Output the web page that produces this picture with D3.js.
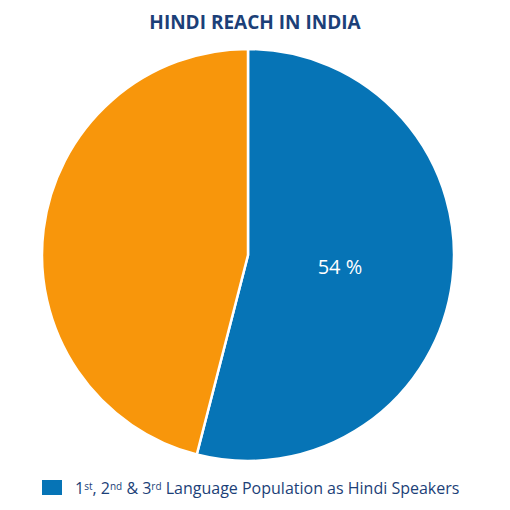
<!DOCTYPE html>
<html><head><meta charset="utf-8">
<script src="https://cdn.jsdelivr.net/npm/d3@7"></script>
<style>body{margin:0;background:#fff}</style>
</head><body>
<svg id="chart" width="510" height="510"></svg>
<script>
// values from the picture
const sliceNames = ["Hindi Speakers", "Others"];
const sliceValues = [54, 46];
const sliceColors = ["#0674b6", "#f8960b"];
const sliceLabels = ["54 %", ""];

const svg = d3.select("#chart");
const cx = 248, cy = 255, radius = 206;

svg.append("text")
    .attr("x", 255).attr("y", 29)
    .attr("text-anchor", "middle")
    .style("font-family", "'Open Sans', sans-serif")
    .style("font-weight", "bold")
    .style("font-size", "19px")
    .style("fill", "#1c3f78")
    .text("HINDI REACH IN INDIA");

const pie = d3.pie().sort(null).value(d => d);
const arcs = pie(sliceValues);
const arc = d3.arc().innerRadius(0).outerRadius(radius);

const g = svg.append("g").attr("transform", `translate(${cx},${cy})`);
g.selectAll("path")
    .data(arcs)
    .enter()
    .append("path")
    .attr("d", arc)
    .style("fill", (d, i) => sliceColors[i])
    .style("stroke", "#fff")
    .style("stroke-width", 2.5);

const labelArc = d3.arc().innerRadius(radius * 0.45).outerRadius(radius * 0.45);
g.selectAll(".lbl")
    .data(arcs)
    .enter()
    .append("text")
    .attr("transform", d => `translate(${labelArc.centroid(d)})`)
    .attr("text-anchor", "middle")
    .attr("dy", "0.35em")
    .style("font-family", "'Open Sans', sans-serif")
    .style("font-size", "20px")
    .style("fill", "#fff")
    .text((d, i) => sliceLabels[i]);

// legend
svg.append("rect")
    .attr("x", 42).attr("y", 480).attr("width", 20).attr("height", 15)
    .style("fill", sliceColors[0]);

const lt = svg.append("text")
    .attr("x", 75).attr("y", 494)
    .style("font-family", "'Open Sans', sans-serif")
    .style("font-size", "16px")
    .style("fill", "#1c3f78");
const parts = [["1", 0], ["st", 1], [", 2", 0], ["nd", 1], [" & 3", 0], ["rd", 1], [" Language Population as Hindi Speakers", 0]];
parts.forEach(([t, sup]) => {
    lt.append("tspan")
        .attr("baseline-shift", sup ? "40%" : null)
        .style("font-size", sup ? "10px" : null)
        .text(t);
});
</script>
</body></html>
